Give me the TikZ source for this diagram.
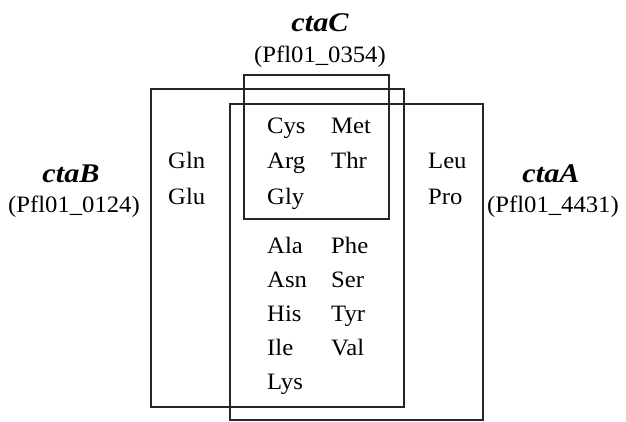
\documentclass[tikz,border=0pt]{standalone}
\usepackage{fontspec}
\setmainfont[FakeStretch=1.05]{Liberation Serif}
\newfontfamily\genefont[FakeStretch=1.12]{Liberation Serif}
\begin{document}
\begin{tikzpicture}[x=1pt,y=-1pt,
  setbox/.style={draw=black!85,line width=2pt},
  acid/.style={anchor=base west,inner sep=0pt,font=\fontsize{23.5}{26}\selectfont},
  gene/.style={anchor=base,inner sep=0pt,font=\genefont\fontsize{27}{30}\selectfont\bfseries\itshape},
  locus/.style={anchor=base,inner sep=0pt,font=\fontsize{23.5}{26}\selectfont}]
\useasboundingbox (0,0) rectangle (626,421);
% the three overlapping gene sets
\draw[setbox] (244,75) rectangle (389,219);
\draw[setbox] (151,89) rectangle (404,407);
\draw[setbox] (230,104) rectangle (483,420);
% gene labels
\node[gene]  (geneC)  at (320,31)  {ctaC};
\node[locus] (locusC) at (320,62)  {(Pfl01\_0354)};
\node[gene]  (geneB)  at (71,182)  {ctaB};
\node[locus] (locusB) at (74,212)  {(Pfl01\_0124)};
\node[gene]  (geneA)  at (551,182) {ctaA};
\node[locus] (locusA) at (553,212) {(Pfl01\_4431)};
% amino acids shared by all three
\node[acid] (cys) at (267,133) {Cys};
\node[acid] (met) at (331,133) {Met};
\node[acid] (arg) at (267,168) {Arg};
\node[acid] (thr) at (331,168) {Thr};
\node[acid] (gly) at (267,204) {Gly};
% ctaB only
\node[acid] (gln) at (168,168) {Gln};
\node[acid] (glu) at (168,204) {Glu};
% ctaA only
\node[acid] (leu) at (428,168) {Leu};
\node[acid] (pro) at (428,204) {Pro};
% ctaA and ctaB
\node[acid] (ala) at (267,253) {Ala};
\node[acid] (phe) at (331,253) {Phe};
\node[acid] (asn) at (267,287) {Asn};
\node[acid] (ser) at (331,287) {Ser};
\node[acid] (his) at (267,321) {His};
\node[acid] (tyr) at (331,321) {Tyr};
\node[acid] (ile) at (267,355) {Ile};
\node[acid] (val) at (331,355) {Val};
\node[acid] (lys) at (267,389) {Lys};
\end{tikzpicture}
\end{document}
